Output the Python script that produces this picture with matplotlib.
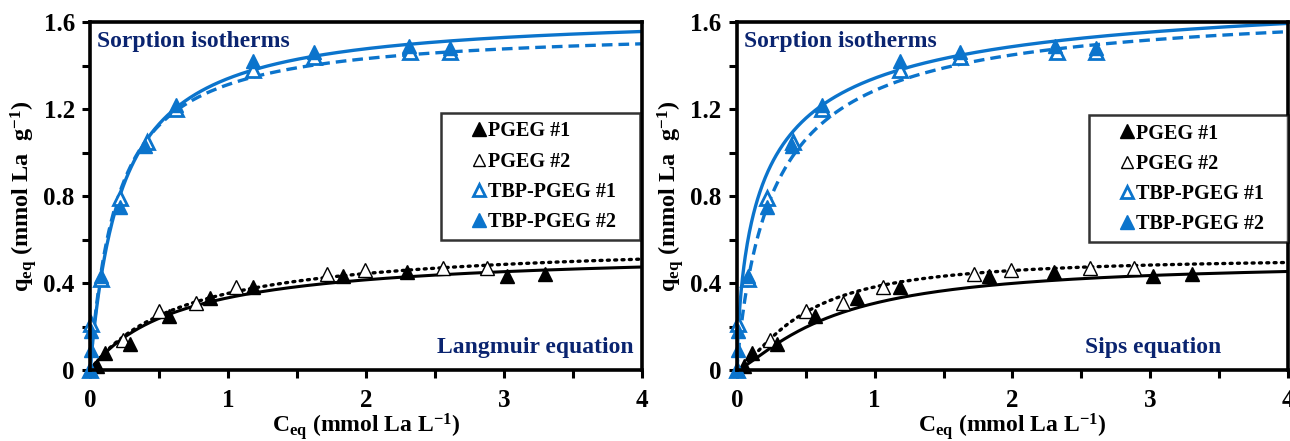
import numpy as np
import matplotlib
matplotlib.use("Agg")
import matplotlib.pyplot as plt
from matplotlib.lines import Line2D

plt.rcParams['font.family'] = ['Liberation Serif', 'DejaVu Serif']
plt.rcParams['font.weight'] = 'bold'
plt.rcParams['axes.labelweight'] = 'bold'
plt.rcParams['mathtext.fontset'] = 'custom'
plt.rcParams['mathtext.rm'] = 'Liberation Serif:bold'
plt.rcParams['mathtext.it'] = 'Liberation Serif:italic:bold'
plt.rcParams['mathtext.bf'] = 'Liberation Serif:bold'

BLUE = '#0b74cc'
NAVY = '#0a2470'

# experimental points (C_eq in mmol/L, q_eq in mmol/g)
pgeg1_c = [0.05, 0.11, 0.29, 0.57, 0.87, 1.18, 1.83, 2.30, 3.02, 3.30]
pgeg1_q = [0.02, 0.08, 0.12, 0.25, 0.33, 0.38, 0.43, 0.45, 0.43, 0.44]

pgeg2_c = [0.24, 0.50, 0.77, 1.06, 1.72, 1.99, 2.56, 2.88]
pgeg2_q = [0.14, 0.27, 0.31, 0.38, 0.44, 0.46, 0.47, 0.47]

tbp1_c = [0.00, 0.01, 0.08, 0.22, 0.41, 0.62, 1.18, 1.62, 2.32, 2.61]
tbp1_q = [0.00, 0.21, 0.42, 0.79, 1.05, 1.20, 1.38, 1.44, 1.46, 1.46]

tbp2_c = [0.00, 0.01, 0.01, 0.08, 0.22, 0.40, 0.62, 1.18, 1.62, 2.31, 2.61]
tbp2_q = [0.00, 0.09, 0.18, 0.43, 0.75, 1.03, 1.22, 1.42, 1.46, 1.49, 1.48]

# fitted parameters: (q_max, K) for Langmuir, (q_max, K, n) for Sips
lang_pgeg1 = (0.552, 1.51)
lang_pgeg2 = (0.599, 1.43)
lang_tbp1 = (1.575, 5.0)
lang_tbp2 = (1.645, 4.4)

sips_pgeg1 = (0.50, 1.43, 1.3)
sips_pgeg2 = (0.52, 2.07, 1.4)
sips_tbp1 = (1.70, 3.51, 0.9)
sips_tbp2 = (1.80, 4.64, 0.7)

etiquetas = ['PGEG #1', 'PGEG #2', 'TBP-PGEG #1', 'TBP-PGEG #2']


def langmuir(c, qm, k):
    return qm * k * c / (1 + k * c)


def sips(c, qm, k, n):
    u = (k * c) ** n
    return qm * u / (1 + u)


def dibujar_panel(ax, modelo, params, caja_leyenda):
    c = np.linspace(0, 4, 800)
    p1, p2, t1, t2 = params
    ax.plot(c, modelo(c, *p1), color='black', lw=2.2, solid_capstyle='butt')
    ax.plot(c, modelo(c, *p2), color='black', lw=2.4, ls=(0, (0.6, 1.6)),
            dash_capstyle='round')
    ax.plot(c, modelo(c, *t1), color=BLUE, lw=2.4, ls=(0, (3.2, 1.8)))
    ax.plot(c, modelo(c, *t2), color=BLUE, lw=2.4)

    ms = 10
    ax.plot(pgeg2_c, pgeg2_q, '^', ms=ms, mfc='white', mec='black', mew=1.0,
            clip_on=False, ls='none')
    ax.plot(pgeg1_c, pgeg1_q, '^', ms=ms, mfc='black', mec='black',
            clip_on=False, ls='none')
    ax.plot(tbp1_c, tbp1_q, '^', ms=ms, mfc='white', mec=BLUE, mew=2.0,
            clip_on=False, ls='none')
    ax.plot(tbp2_c, tbp2_q, '^', ms=ms, mfc=BLUE, mec=BLUE,
            clip_on=False, ls='none')

    ax.set_xlim(0, 4)
    ax.set_ylim(0, 1.6)
    ax.set_xticks([0, 1, 2, 3, 4])
    ax.set_xticks(np.arange(0, 4.01, 0.5), minor=True)
    ax.set_yticks([0, 0.4, 0.8, 1.2, 1.6])
    ax.set_yticklabels(['0', '0.4', '0.8', '1.2', '1.6'])
    ax.set_yticks(np.arange(0, 1.61, 0.2), minor=True)
    ax.tick_params(which='both', direction='out', width=2.2, labelsize=18,
                   top=False, right=False)
    ax.tick_params(axis='x', which='major', length=6, pad=8)
    ax.tick_params(axis='y', which='major', length=6, pad=5)
    ax.tick_params(which='minor', length=6)
    for s in ax.spines.values():
        s.set_linewidth(2.6)

    ax.set_xlabel(r'C$_{\mathrm{eq}}$ (mmol La L$^{\mathrm{-1}}$)', fontsize=17,
                  labelpad=-1)
    ax.set_ylabel(r'q$_{\mathrm{eq}}$ (mmol La  g$^{\mathrm{-1}}$)', fontsize=17.5,
                  labelpad=3)

    ax.text(0.013, 0.975, 'Sorption isotherms', transform=ax.transAxes,
            color=NAVY, fontsize=17, ha='left', va='top')

    handles = [
        Line2D([], [], marker='^', ls='none', ms=10, mfc='black', mec='black'),
        Line2D([], [], marker='^', ls='none', ms=9, mfc='white', mec='black', mew=1.0),
        Line2D([], [], marker='^', ls='none', ms=9, mfc='white', mec=BLUE, mew=2.0),
        Line2D([], [], marker='^', ls='none', ms=10, mfc=BLUE, mec=BLUE),
    ]
    leg = ax.legend(handles, etiquetas, loc='upper left',
                    bbox_to_anchor=caja_leyenda, mode='expand', fontsize=14.5,
                    frameon=True, fancybox=False, edgecolor='black',
                    handlelength=2.9, handletextpad=-1.0, borderpad=0.42,
                    labelspacing=0.5, borderaxespad=0)
    leg.get_frame().set_linewidth(1.8)
    for txt in leg.get_texts():
        txt.set_fontweight('bold')
    return ax


fig = plt.figure(figsize=(12.9, 4.41), dpi=100)
ax1 = fig.add_axes([0.0698, 0.161, 0.4279, 0.789])
ax2 = fig.add_axes([0.5713, 0.161, 0.4271, 0.789])

dibujar_panel(ax1, langmuir, (lang_pgeg1, lang_pgeg2, lang_tbp1, lang_tbp2),
              (0.636, 0.30, 0.3605, 0.4385))
dibujar_panel(ax2, sips, (sips_pgeg1, sips_pgeg2, sips_tbp1, sips_tbp2),
              (0.639, 0.30, 0.361, 0.4327))

ax1.text(0.985, 0.065, 'Langmuir equation', transform=ax1.transAxes,
         color=NAVY, fontsize=17, ha='right', va='center')
ax2.text(0.755, 0.065, 'Sips equation', transform=ax2.transAxes,
         color=NAVY, fontsize=17, ha='center', va='center')

fig.savefig('out.png', dpi=100)
